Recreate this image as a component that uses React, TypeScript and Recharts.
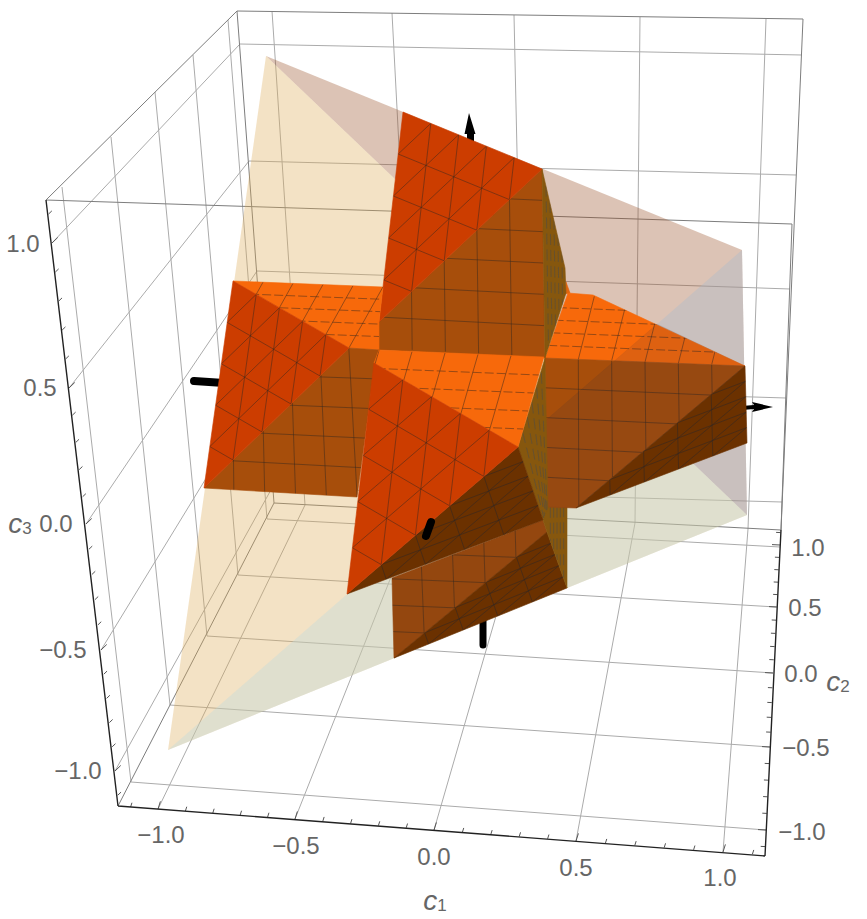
import { Scatter, ScatterChart, XAxis, YAxis } from "recharts";

type Pt = [number, number];

const c1TickLabels = ["\u22121.0", "\u22120.5", "0.0", "0.5", "1.0"];
const c1LabelSpots: Pt[] = [[161, 834], [296, 845], [434, 856], [576, 867], [720, 877]];
const c1Majors: Pt[] = [[158, 809], [295, 819], [434, 830], [576, 841], [723, 852]];

const c2TickLabels = ["1.0", "0.5", "0.0", "\u22120.5", "\u22121.0"];
const c2LabelSpots: Pt[] = [[808, 547], [805, 607], [801, 673], [806, 747], [802, 831]];
const c2Majors: Pt[] = [[780, 545], [777, 607], [773, 673], [770, 747], [766, 830]];

const c3TickLabels = ["1.0", "0.5", "0.0", "\u22120.5", "\u22121.0"];
const c3LabelSpots: Pt[] = [[23, 243], [40, 387], [56, 523], [63, 649], [78, 770]];
const c3Majors: Pt[] = [[52, 243], [69, 388], [86, 524], [101, 650], [115, 771]];

const frameLines: Pt[] = [
  [237, 11], [46, 200],
  [237, 11], [803, 19],
  [46, 200], [792, 224],
  [803, 19], [781, 530],
  [792, 224], [781, 530],
  [237, 11], [274, 503],
  [118, 806], [274, 503],
  [274, 503], [781, 530],
];
const axisLines: Pt[] = [
  [46, 200], [118, 806],
  [118, 806], [765, 856],
  [781, 530], [765, 856],
];
const gridLines: Pt[] = [
  // left wall, c3
  [52, 243], [240, 44], [69, 388], [249, 161], [86, 524], [257, 271], [101, 650], [265, 382], [115, 771], [272, 488],
  // back wall, c3
  [240, 44], [802, 55], [249, 161], [796, 175], [257, 271], [790, 289], [265, 382], [786, 398], [272, 488], [782, 502],
  // left wall, c2
  [62, 187], [131, 782], [111, 137], [170, 705], [155, 92], [207, 636], [193, 55], [238, 575], [228, 20], [267, 519],
  // floor, c2
  [267, 519], [780, 547], [238, 575], [776, 607], [207, 636], [773, 673], [170, 705], [770, 747], [131, 782], [766, 830],
  // floor, c1
  [158, 809], [305, 505], [295, 819], [418, 509], [434, 830], [525, 516], [576, 841], [635, 523], [723, 852], [748, 529],
  // back wall, c1
  [272, 11], [305, 505], [392, 13], [418, 509], [514, 15], [525, 516], [640, 17], [635, 523], [766, 19], [748, 529],
];

const cornerA: Pt = [266, 56];
const cornerR: Pt = [742, 250];
const cornerD: Pt = [747, 515];
const cornerL: Pt = [168, 750];
const cornerX: Pt = [600, 374];

const upperArrow: Pt[] = [[469, 113], [475.5, 134], [474, 134], [474, 142], [467, 144], [467, 134], [464.5, 134]];
const rightArrow: Pt[] = [[773, 407], [752, 402], [754, 405], [742, 406], [742, 410], [754, 409], [752, 412]];
const leftStub: Pt[] = [[194, 381], [224, 383]];
const lowerStub: Pt[] = [[483, 645], [483, 620]];
const centerStub: Pt[] = [[426, 536], [431, 522]];

const upperRed: Pt[] = [[403, 112], [542, 169], [379, 322]];
const upperBrown: Pt[] = [[542, 169], [545, 358], [379, 350], [379, 322]];
const upperBrownGrid: Pt[] = [[377, 162], [542, 169], [545, 357], [379, 348]];
const upperSide: Pt[] = [[542, 169], [565, 268], [566, 293], [545, 358]];
const upperSideGrid: Pt[] = [[542, 169], [566, 268], [566, 295], [545, 357]];

const leftRed: Pt[] = [[233, 281], [349, 348], [204, 488]];
const leftTop: Pt[] = [[233, 281], [383, 287], [379, 322], [379, 350], [349, 348]];
const leftTopGrid: Pt[] = [[233, 281], [413, 288], [379, 349], [199, 342]];
const leftBrown: Pt[] = [[349, 348], [380, 350], [375, 363], [357, 497], [204, 488]];
const leftBrownGrid: Pt[] = [[203, 344], [378, 349], [388, 499], [203, 488]];

const rightTop: Pt[] = [[568, 293], [593, 295], [745, 366], [545, 358]];
const rightTopGrid: Pt[] = [[561, 295], [761, 303], [745, 366], [545, 358]];
const rightBrown: Pt[] = [[545, 358], [745, 366], [576, 508], [546, 507]];
const rightBrownGrid: Pt[] = [[545, 358], [745, 366], [748, 519], [545, 507]];
const rightDark: Pt[] = [[745, 366], [747, 443], [576, 508]];
const rightNotch: Pt[] = [[566, 282], [570, 293], [565, 294]];
const rightTint: Pt[] = [[657, 324], [745, 366], [576, 508], [546, 507], [545, 421]];

const lowerBrown: Pt[] = [[392, 578], [543, 520], [547, 532], [394, 658]];
const lowerBrownGrid: Pt[] = [[388, 526], [547, 532], [550, 665], [394, 658]];
const lowerDark: Pt[] = [[394, 658], [547, 532], [567, 588]];
const lowerSide: Pt[] = [[546, 507], [567, 506], [567, 588], [547, 532], [543, 520]];
const lowerSideGrid: Pt[] = [[547, 507], [567, 506], [567, 588], [547, 532]];

const centerRed: Pt[] = [[374, 363], [518, 447], [347, 594]];
const centerTop: Pt[] = [[374, 363], [379, 350], [544, 357], [518, 447]];
const centerTopGrid: Pt[] = [[346, 349], [544, 357], [518, 447], [320, 439]];
const centerSide: Pt[] = [[545, 358], [518, 447], [543, 520], [548, 508]];
const centerSideGrid: Pt[] = [[518, 447], [546, 358], [548, 508], [543, 520]];
const centerDark: Pt[] = [[518, 447], [543, 520], [347, 594]];

const RED = "#cc3d00";
const ORANGE = "#f7690b";
const BROWN = "#a74e0b";
const LOW_BROWN = "#94470f";
const DARK = "#6b3100";
const OLIVE = "#86570e";
const MESH = "rgba(55,40,30,0.62)";
const DARK_MESH = "rgba(50,40,35,0.7)";
const SIDE_MESH = "rgba(75,75,75,0.65)";

type Face = {
  outline: Pt[];
  fill: string;
  grid?: Pt[];
  nx?: number;
  ny?: number;
  tri?: boolean;
  dashRows?: boolean;
  side?: boolean;
};

const faces: Face[] = [
  { outline: lowerBrown, fill: LOW_BROWN, grid: lowerBrownGrid, nx: 5, ny: 5 },
  { outline: lowerDark, fill: DARK, tri: true },
  { outline: lowerSide, fill: OLIVE, grid: lowerSideGrid, nx: 6, ny: 1, side: true },
  { outline: rightNotch, fill: "#e0650f" },
  { outline: rightTop, fill: ORANGE, grid: rightTopGrid, nx: 6, ny: 5, dashRows: true },
  { outline: rightBrown, fill: BROWN, grid: rightBrownGrid, nx: 6, ny: 5 },
  { outline: rightDark, fill: DARK, tri: true },
  { outline: rightTint, fill: "rgba(30,40,70,0.11)" },
  { outline: upperBrown, fill: BROWN, grid: upperBrownGrid, nx: 5, ny: 6 },
  { outline: upperSide, fill: OLIVE, grid: upperSideGrid, nx: 6, ny: 1, side: true },
  { outline: upperRed, fill: RED, tri: true },
  { outline: leftTop, fill: ORANGE, grid: leftTopGrid, nx: 6, ny: 5, dashRows: true },
  { outline: leftBrown, fill: BROWN, grid: leftBrownGrid, nx: 6, ny: 5 },
  { outline: leftRed, fill: RED, tri: true },
  { outline: centerSide, fill: OLIVE, grid: centerSideGrid, nx: 6, ny: 1, side: true },
  { outline: centerDark, fill: DARK, tri: true },
  { outline: centerTop, fill: ORANGE, grid: centerTopGrid, nx: 6, ny: 5, dashRows: true },
  { outline: centerRed, fill: RED, tri: true },
];

const planes: { outline: Pt[]; fill: string }[] = [
  { outline: [cornerA, cornerR, cornerD], fill: "rgba(155,84,44,0.35)" },
  { outline: [cornerA, cornerL, cornerD], fill: "rgba(221,172,89,0.35)" },
  { outline: [cornerL, cornerD, cornerX], fill: "rgba(186,217,223,0.35)" },
  { outline: [cornerX, cornerR, cornerD], fill: "rgba(166,186,206,0.35)" },
];

type P = { x: number; y: number };
const toRows = (pts: Pt[]) => pts.map(([x, y]) => ({ x, y }));
const mix = (a: P, b: P, t: number): P => ({ x: a.x + (b.x - a.x) * t, y: a.y + (b.y - a.y) * t });
const seg = (a: P, b: P) => `M${a.x} ${a.y}L${b.x} ${b.y}`;

// minor marks between the major ones, one extra past each end
function buildTicks(majors: Pt[], dx: number, dy: number) {
  const minor: Pt[] = [];
  const major: Pt[] = [];
  const step = (a: Pt, b: Pt, t: number): Pt => [a[0] + (b[0] - a[0]) * t, a[1] + (b[1] - a[1]) * t];
  majors.forEach((m) => major.push(m, [m[0] + dx * 8, m[1] + dy * 8]));
  const put = (p: Pt) => minor.push(p, [p[0] + dx * 4.5, p[1] + dy * 4.5]);
  put(step(majors[0], majors[1], -0.2));
  for (let i = 0; i < majors.length - 1; i++) {
    for (let k = 1; k < 5; k++) put(step(majors[i], majors[i + 1], k / 5));
  }
  const n = majors.length;
  put(step(majors[n - 2], majors[n - 1], 1.2));
  return { major, minor };
}

const c1Ticks = buildTicks(c1Majors, 0.3, -0.95);
const c2Ticks = buildTicks(c2Majors, -1, -0.05);
const c3Ticks = buildTicks(c3Majors, 0.72, -0.69);

const noDot = () => <g />;

function segmentsLine(stroke: string, strokeWidth: number) {
  return (props: any) => {
    const pts: P[] = props.points;
    let d = "";
    for (let i = 0; i + 1 < pts.length; i += 2) d += seg(pts[i], pts[i + 1]);
    return <path d={d} fill="none" stroke={stroke} strokeWidth={strokeWidth} />;
  };
}

function polygonLine(fill: string) {
  return (props: any) => {
    const pts: P[] = props.points;
    return <polygon points={pts.map((p) => `${p.x},${p.y}`).join(" ")} fill={fill} stroke="none" />;
  };
}

function strokeLine(width: number) {
  return (props: any) => {
    const pts: P[] = props.points;
    return <path d={seg(pts[0], pts[1])} stroke="#000" strokeWidth={width} strokeLinecap="round" fill="none" />;
  };
}

function faceLine(face: Face, id: string) {
  const count = face.outline.length;
  return (props: any) => {
    const pts: P[] = props.points;
    const outline = pts.slice(0, count);
    const corners = pts.slice(count);
    const poly = outline.map((p) => `${p.x},${p.y}`).join(" ");
    let solid = "";
    let dashed = "";
    if (face.tri) {
      const [a, b, c] = outline;
      for (let k = 1; k < 5; k++) {
        const t = k / 5;
        solid += seg(mix(a, b, t), mix(a, c, t));
        solid += seg(mix(b, a, t), mix(b, c, t));
        solid += seg(mix(c, a, t), mix(c, b, t));
      }
    } else if (corners.length === 4) {
      const [tl, tr, br, bl] = corners;
      const nx = face.nx ?? 5;
      const ny = face.ny ?? 5;
      for (let i = 1; i < nx; i++) {
        const line = seg(mix(tl, tr, i / nx), mix(bl, br, i / nx));
        if (face.side) dashed += line;
        else solid += line;
      }
      for (let j = 1; j < ny; j++) {
        const line = seg(mix(tl, bl, j / ny), mix(tr, br, j / ny));
        if (face.dashRows) dashed += line;
        else solid += line;
      }
    }
    const isDark = face.fill === DARK;
    const meshStroke = face.side ? SIDE_MESH : isDark ? DARK_MESH : MESH;
    return (
      <g>
        <clipPath id={id}>
          <polygon points={poly} />
        </clipPath>
        <polygon points={poly} fill={face.fill} stroke={face.fill} strokeWidth={0.6} />
        <g clipPath={`url(#${id})`}>
          {solid && <path d={solid} fill="none" stroke={meshStroke} strokeWidth={0.8} />}
          {dashed && (
            <path d={dashed} fill="none" stroke={meshStroke} strokeWidth={0.8} strokeDasharray={face.side ? "11 5" : "9 3"} />
          )}
        </g>
      </g>
    );
  };
}

function tickText(props: any) {
  const label = props.payload?.label ?? props.label;
  return (
    <text
      x={props.cx}
      y={props.cy}
      textAnchor="middle"
      dominantBaseline="central"
      fontFamily="Liberation Sans"
      fontSize={24}
      fill="#666"
    >
      {label}
    </text>
  );
}

function axisTitle(sub: string) {
  return (props: any) => (
    <text x={props.cx} y={props.cy} textAnchor="middle" dominantBaseline="central" fontFamily="Liberation Sans" fill="#666">
      <tspan fontStyle="italic" fontSize={28}>c</tspan>
      <tspan fontSize={17} dy={5}>{sub}</tspan>
    </text>
  );
}

const labelRows = (labels: string[], spots: Pt[]) => spots.map(([x, y], i) => ({ x, y, label: labels[i] }));

export default function App() {
  return (
    <div style={{ position: "absolute", left: 0, top: 0, width: 867, height: 919 }}>
      <ScatterChart width={867} height={919} margin={{ top: 0, right: 0, bottom: 0, left: 0 }}>
        <XAxis type="number" dataKey="x" domain={[0, 867]} hide />
        <YAxis type="number" dataKey="y" domain={[0, 919]} reversed hide />

        <Scatter data={toRows(gridLines)} line={segmentsLine("#ababab", 1)} shape={noDot} isAnimationActive={false} />
        <Scatter data={toRows(frameLines)} line={segmentsLine("#7d7d7d", 1)} shape={noDot} isAnimationActive={false} />
        <Scatter data={toRows(c1Ticks.minor.concat(c2Ticks.minor, c3Ticks.minor))} line={segmentsLine("#555", 1)} shape={noDot} isAnimationActive={false} />
        <Scatter data={toRows(c1Ticks.major.concat(c2Ticks.major, c3Ticks.major))} line={segmentsLine("#555", 1)} shape={noDot} isAnimationActive={false} />
        <Scatter data={toRows(axisLines)} line={segmentsLine("#222", 1.4)} shape={noDot} isAnimationActive={false} />

        {planes.map((plane, i) => (
          <Scatter key={`plane-${i}`} data={toRows(plane.outline)} line={polygonLine(plane.fill)} shape={noDot} isAnimationActive={false} />
        ))}

        <Scatter data={toRows(upperArrow)} line={polygonLine("#000")} shape={noDot} isAnimationActive={false} />
        <Scatter data={toRows(rightArrow)} line={polygonLine("#000")} shape={noDot} isAnimationActive={false} />
        <Scatter data={toRows(leftStub)} line={strokeLine(8)} shape={noDot} isAnimationActive={false} />
        <Scatter data={toRows(lowerStub)} line={strokeLine(7)} shape={noDot} isAnimationActive={false} />

        {faces.map((face, i) => (
          <Scatter
            key={`face-${i}`}
            data={toRows(face.outline.concat(face.grid ?? []))}
            line={faceLine(face, `face-clip-${i}`)}
            shape={noDot}
            isAnimationActive={false}
          />
        ))}

        <Scatter data={toRows(centerStub)} line={strokeLine(8)} shape={noDot} isAnimationActive={false} />

        <Scatter data={labelRows(c1TickLabels, c1LabelSpots)} shape={tickText} isAnimationActive={false} />
        <Scatter data={labelRows(c2TickLabels, c2LabelSpots)} shape={tickText} isAnimationActive={false} />
        <Scatter data={labelRows(c3TickLabels, c3LabelSpots)} shape={tickText} isAnimationActive={false} />
        <Scatter data={[{ x: 435, y: 900 }]} shape={axisTitle("1")} isAnimationActive={false} />
        <Scatter data={[{ x: 838, y: 681 }]} shape={axisTitle("2")} isAnimationActive={false} />
        <Scatter data={[{ x: 20, y: 523 }]} shape={axisTitle("3")} isAnimationActive={false} />
      </ScatterChart>
    </div>
  );
}
